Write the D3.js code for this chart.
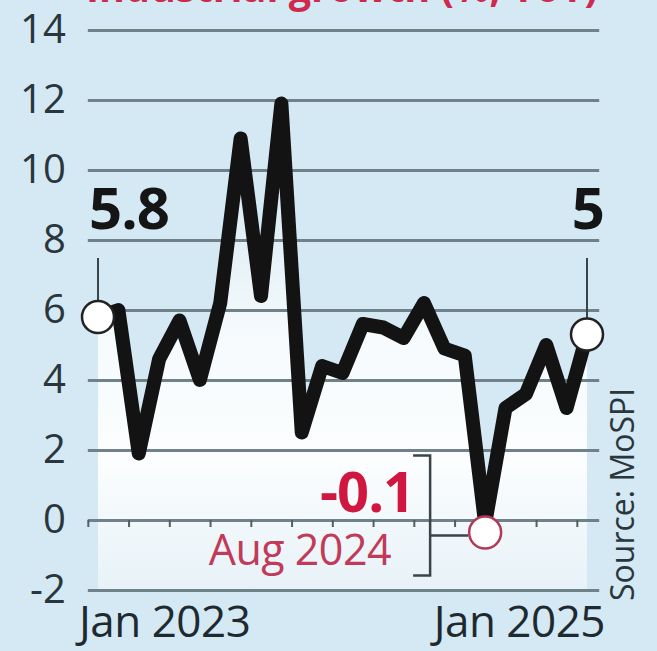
<!DOCTYPE html>
<html>
<head>
<meta charset="utf-8">
<script src="https://cdn.jsdelivr.net/npm/d3@7"></script>
<style>
  html, body { margin: 0; padding: 0; background: #d4e9f3; }
  svg { display: block; font-family: "Open Sans", sans-serif; }
</style>
</head>
<body>
<div id="chart"></div>
<script>
// IIP growth, % YoY, monthly Jan 2023 - Jan 2025
const months = ["Jan 2023", "Feb 2023", "Mar 2023", "Apr 2023", "May 2023", "Jun 2023",
    "Jul 2023", "Aug 2023", "Sep 2023", "Oct 2023", "Nov 2023", "Dec 2023",
    "Jan 2024", "Feb 2024", "Mar 2024", "Apr 2024", "May 2024", "Jun 2024",
    "Jul 2024", "Aug 2024", "Sep 2024", "Oct 2024", "Nov 2024", "Dec 2024", "Jan 2025"];
const growth = [5.8, 6.0, 1.9, 4.6, 5.7, 4.0, 6.2, 10.9, 6.4, 11.9, 2.5, 4.4,
    4.2, 5.6, 5.5, 5.2, 6.2, 4.9, 4.7, -0.1, 3.2, 3.6, 5.0, 3.2, 5.3];
const yTicks = [-2, 0, 2, 4, 6, 8, 10, 12, 14];
const xLabels = ["Jan 2023", "Jan 2025"];
const callouts = [{ month: "Jan 2023", text: "5.8" }, { month: "Jan 2025", text: "5" }];
const lowPoint = { month: "Aug 2024", value: "-0.1" };

const dimensions = { width: 657, height: 651 };
const data = months.map((m, i) => ({ month: m, i: i, value: growth[i] }));

const x = d3.scaleLinear().domain([0, months.length - 1]).range([98, 587]);
const y = d3.scaleLinear().domain([-2, 14]).range([590, 30]);

const svg = d3.select("#chart")
    .append("svg")
    .attr("width", dimensions.width)
    .attr("height", dimensions.height);

const defs = svg.append("defs");
const grad = defs.append("linearGradient")
    .attr("id", "under")
    .attr("gradientUnits", "userSpaceOnUse")
    .attr("x1", 0).attr("x2", 0)
    .attr("y1", y(-2)).attr("y2", y(10));
grad.append("stop").attr("offset", 0).attr("stop-color", "#e7f2f8").attr("stop-opacity", 1);
grad.append("stop").attr("offset", 0.3).attr("stop-color", "#fbfdfe").attr("stop-opacity", 1);
grad.append("stop").attr("offset", 0.6).attr("stop-color", "#ffffff").attr("stop-opacity", 0.8);
grad.append("stop").attr("offset", 1).attr("stop-color", "#ffffff").attr("stop-opacity", 0);

// title, mostly cut off at the top edge
svg.append("text")
    .attr("x", 86).attr("y", 2)
    .attr("textLength", 512)
    .attr("lengthAdjust", "spacingAndGlyphs")
    .style("font-size", "42px").style("font-weight", "bold")
    .style("fill", "#cf2a4e")
    .text("Industrial growth (%, YoY)");

// area under the line
svg.append("path")
    .datum(data)
    .attr("fill", "url(#under)")
    .attr("d", d3.area().x(d => x(d.i)).y0(y(-2)).y1(d => y(d.value)));

// gridlines + y labels
const gridRight = x(months.length - 1 + 0.6);
const gridLeft = x(-0.5);
const yAxis = svg.append("g")
    .attr("transform", `translate(${gridLeft},0)`)
    .call(d3.axisLeft(y).tickValues(yTicks).tickSize(-(gridRight - gridLeft))
        .tickPadding(22).tickFormat(d => String(d)));
yAxis.select(".domain").remove();
yAxis.selectAll(".tick line").attr("stroke", "#6f8289").attr("stroke-width", 3);
yAxis.selectAll(".tick text")
    .style("font-family", "'Open Sans', sans-serif")
    .style("font-size", "40px")
    .attr("fill", "#2a363c");

// small month ticks on the zero line
const xAxis = svg.append("g")
    .attr("transform", `translate(0,${y(0)})`)
    .call(d3.axisBottom(x).tickValues(d3.range(-0.5, months.length - 1, 2)).tickSize(7).tickFormat(""));
xAxis.select(".domain").remove();
xAxis.selectAll(".tick line").attr("stroke", "#4f5f66").attr("stroke-width", 2);

// x labels
svg.selectAll(".xlab")
    .data(xLabels)
    .join("text")
    .attr("class", "xlab")
    .attr("x", d => x(months.indexOf(d)) + (d === xLabels[0] ? -19 : 18))
    .attr("y", 637)
    .attr("text-anchor", d => d === xLabels[0] ? "start" : "end")
    .style("font-size", "44px")
    .style("letter-spacing", "-0.5px")
    .attr("fill", "#1f2a30")
    .text(d => d);

// source
svg.append("text")
    .attr("transform", "translate(634,601) rotate(-90)")
    .style("font-size", "32px")
    .attr("fill", "#2a363c")
    .text("Source: MoSPI");

// main line
svg.append("path")
    .datum(data)
    .attr("fill", "none")
    .attr("stroke", "#131313")
    .attr("stroke-width", 14)
    .attr("stroke-linejoin", "round")
    .attr("d", d3.line().x(d => x(d.i)).y(d => y(d.value)));

// end-point callouts
callouts.forEach(c => {
    const d = data[months.indexOf(c.month)];
    svg.append("line")
        .attr("x1", x(d.i)).attr("x2", x(d.i))
        .attr("y1", 258).attr("y2", y(d.value) - 16)
        .attr("stroke", "#3a4449").attr("stroke-width", 2);
    svg.append("circle")
        .attr("cx", x(d.i)).attr("cy", y(d.value)).attr("r", 16)
        .attr("fill", "#fff").attr("stroke", "#222").attr("stroke-width", 2.5);
    svg.append("text")
        .attr("x", c === callouts[0] ? x(d.i) - 9 : x(d.i) + 17)
        .attr("y", 229)
        .attr("text-anchor", c === callouts[0] ? "start" : "end")
        .style("font-size", "58px").style("font-weight", "bold")
        .style("letter-spacing", "-1px")
        .attr("fill", "#151515")
        .text(c.text);
});

// low point annotation
const lp = data[months.indexOf(lowPoint.month)];
const lpY = y(lp.value) + 9;
const bx = x(lp.i) - 55;
svg.append("path")
    .attr("d", `M${bx - 17},${lpY - 77}H${bx}V${lpY + 43}H${bx - 17}M${bx},${lpY + 3}H${x(lp.i) - 17}`)
    .attr("fill", "none").attr("stroke", "#3a4449").attr("stroke-width", 2.5);
svg.append("circle")
    .attr("cx", x(lp.i)).attr("cy", lpY).attr("r", 16)
    .attr("fill", "#fff").attr("stroke", "#b03a57").attr("stroke-width", 2.5);
svg.append("text")
    .attr("x", bx - 16).attr("y", 512)
    .attr("text-anchor", "end")
    .style("font-size", "56px").style("font-weight", "bold")
    .style("letter-spacing", "-1px")
    .attr("fill", "#d0173f")
    .text(lowPoint.value);
svg.append("text")
    .attr("x", bx - 39).attr("y", 565)
    .attr("text-anchor", "end")
    .style("font-size", "43px")
    .style("letter-spacing", "-0.5px")
    .attr("fill", "#c23a5a")
    .text(lowPoint.month);
</script>
</body>
</html>
